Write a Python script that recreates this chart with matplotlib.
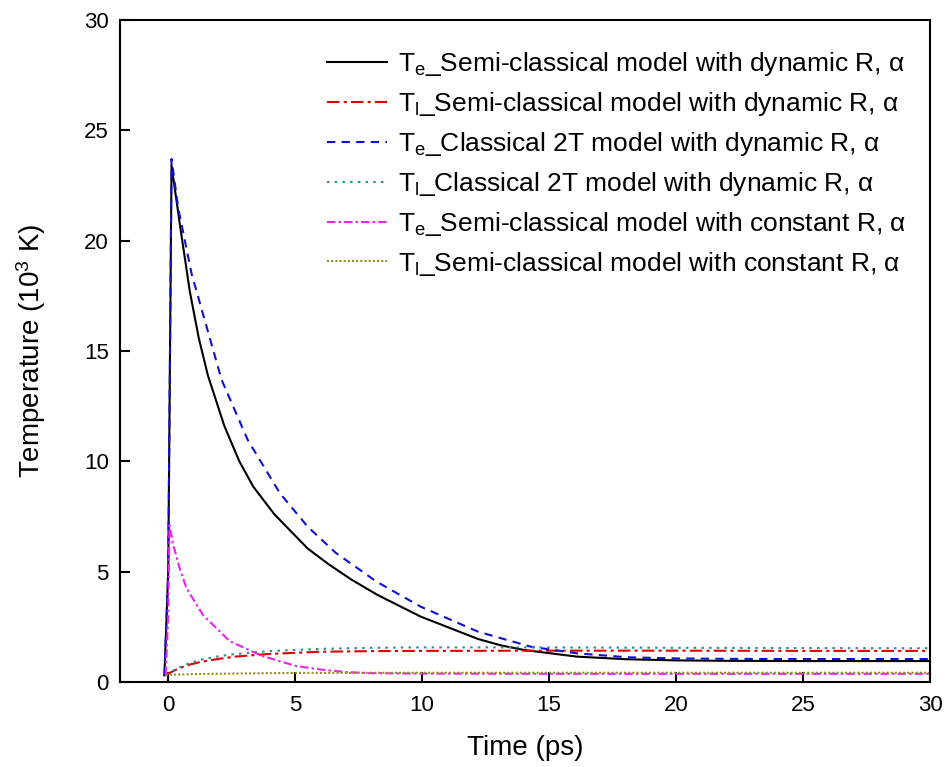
import matplotlib.pyplot as plt

plt.rcParams['font.family'] = ['Liberation Sans', 'DejaVu Sans']
plt.rcParams['mathtext.fontset'] = 'custom'
plt.rcParams['mathtext.rm'] = 'Liberation Sans'
plt.rcParams['mathtext.it'] = 'Liberation Sans:italic'

# values (time in ps, temperature in 10^3 K)
t_te_semi = [-0.15, 0.0, 0.13, 0.5, 0.85, 1.2, 1.56, 2.21, 2.8, 3.35, 4.18, 5.49, 6.3, 7.2,
             8.25, 9.95, 12.2, 13.1, 14.02, 16.1, 18.09, 20, 22, 25, 30]
te_semi = [0.3, 5, 23.4, 20.4, 17.7, 15.6, 13.9, 11.6, 10.0, 8.85, 7.6, 6.05, 5.35, 4.65,
           3.94, 2.96, 1.95, 1.66, 1.45, 1.15, 1.03, 0.98, 0.96, 0.95, 0.95]

t_te_cls = [-0.15, 0.0, 0.13, 0.39, 0.92, 1.56, 2.1, 3.13, 4.4, 5.49, 6.6, 8.2, 9.95,
            12.2, 14.28, 16.1, 18.09, 20, 22, 25, 30]
te_cls = [0.3, 5, 23.7, 21.5, 18.5, 15.9, 13.7, 10.97, 8.55, 7.04, 5.85, 4.55, 3.41,
          2.28, 1.6, 1.3, 1.12, 1.07, 1.05, 1.04, 1.04]

t_tl = [-0.1, 0.3, 0.7, 1.31, 2.0, 2.63, 3.95, 5.92, 8, 10, 15, 20, 25, 30]
tl_semi = [0.33, 0.55, 0.75, 0.92, 1.05, 1.15, 1.27, 1.37, 1.4, 1.41, 1.42, 1.42, 1.41, 1.41]
tl_cls = [0.33, 0.58, 0.8, 1.02, 1.17, 1.27, 1.4, 1.5, 1.55, 1.57, 1.57, 1.55, 1.54, 1.53]

t_te_const = [-0.1, 0.0, 0.05, 0.2, 0.45, 0.72, 1.36, 2.42, 3.73, 5.05, 5.97, 7, 8, 10, 15, 20, 30]
te_const = [0.33, 3, 7.1, 6.2, 5.15, 4.25, 3.05, 1.85, 1.17, 0.72, 0.57, 0.45, 0.4, 0.38, 0.37,
            0.37, 0.37]

t_tl_const = [-0.1, 0.5, 1, 3, 5, 10, 20, 30]
tl_const = [0.33, 0.34, 0.36, 0.39, 0.41, 0.42, 0.42, 0.42]

labels = [
    r"T$_\mathrm{e}$_Semi-classical model with dynamic R, $\mathrm{\alpha}$",
    r"T$_\mathrm{l}$_Semi-classical model with dynamic R, $\mathrm{\alpha}$",
    r"T$_\mathrm{e}$_Classical 2T model with dynamic R, $\mathrm{\alpha}$",
    r"T$_\mathrm{l}$_Classical 2T model with dynamic R, $\mathrm{\alpha}$",
    r"T$_\mathrm{e}$_Semi-classical model with constant R, $\mathrm{\alpha}$",
    r"T$_\mathrm{l}$_Semi-classical model with constant R, $\mathrm{\alpha}$",
]

fig = plt.figure(figsize=(9.5, 7.67), dpi=100)
ax = fig.add_axes([0.1263, 0.1108, 0.8527, 0.8632])

ax.plot(t_te_semi, te_semi, color='black', lw=1.5, label=labels[0])
ax.plot(t_tl, tl_semi, color='#e00000', lw=1.5, dashes=(6, 2, 1.5, 2), label=labels[1])
ax.plot(t_te_cls, te_cls, color='#1010d0', lw=1.5, dashes=(4, 3), label=labels[2])
ax.plot(t_tl, tl_cls, color='#2a8f8f', lw=1.5, dashes=(1.2, 2.5), label=labels[3])
ax.plot(t_te_const, te_const, color='#ee22ee', lw=1.5, dashes=(4, 1.5, 1.2, 1.5), label=labels[4])
ax.plot(t_tl_const, tl_const, color='#8f8f20', lw=1.5, dashes=(1, 1), label=labels[5])

ax.set_xlim(-1.9, 29.95)
ax.set_ylim(0, 30)
ax.set_xticks([0, 5, 10, 15, 20, 25, 30])
ax.set_yticks([0, 5, 10, 15, 20, 25, 30])
ax.tick_params(direction='in', length=7, width=1.5, labelsize=16)
ax.tick_params(axis='x', pad=9)
ax.tick_params(axis='y', pad=8)
for s in ax.spines.values():
    s.set_linewidth(1.5)

ax.set_xlabel("Time (ps)", fontsize=20, labelpad=14)
ax.set_ylabel(r"Temperature (10$^3$ K)", fontsize=20, labelpad=26)

ax.legend(loc='upper right', bbox_to_anchor=(1.0, 0.99), frameon=False, fontsize=19,
          handlelength=2.3, labelspacing=0.45, borderaxespad=0.5, handletextpad=0.4)

fig.savefig("out.png", dpi=100)
